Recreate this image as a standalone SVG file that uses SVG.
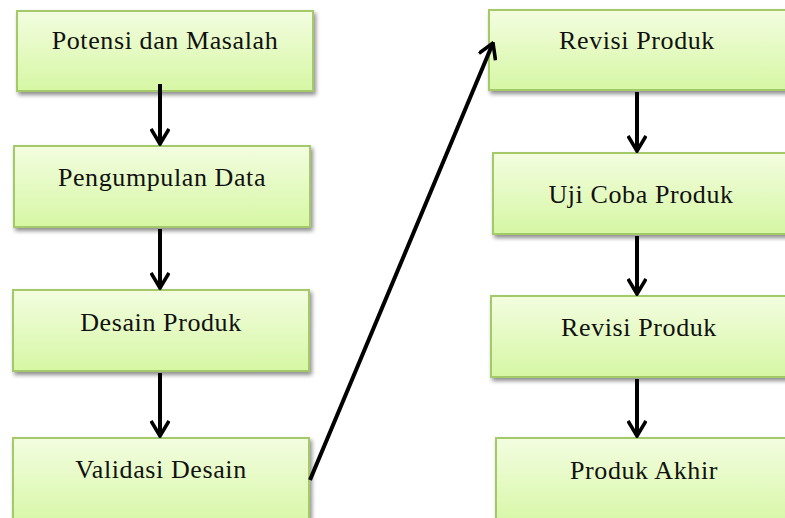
<svg xmlns="http://www.w3.org/2000/svg" width="785" height="518" viewBox="0 0 785 518">
<defs>
<linearGradient id="g" x1="0" y1="0" x2="0" y2="1">
<stop offset="0" stop-color="#f3fde0"/>
<stop offset="1" stop-color="#d6f7a4"/>
</linearGradient>
<filter id="sh" x="-10%" y="-10%" width="120%" height="130%">
<feGaussianBlur in="SourceAlpha" stdDeviation="2"/>
<feOffset dx="2" dy="3" result="b"/>
<feComponentTransfer><feFuncA type="linear" slope="0.45"/></feComponentTransfer>
<feMerge><feMergeNode/><feMergeNode in="SourceGraphic"/></feMerge>
</filter>
<marker id="ah" viewBox="0 0 18 20" refX="16.5" refY="10" markerWidth="18" markerHeight="20" markerUnits="userSpaceOnUse" orient="auto">
<path d="M1.5,1 L16.5,10 L1.5,19" fill="none" stroke="#000" stroke-width="3.6"/>
</marker>
</defs>
<style>
.box{fill:url(#g);stroke:#a3c968;stroke-width:2;filter:url(#sh)}
.t{font-family:"Liberation Serif","Times New Roman",serif;font-size:26px;letter-spacing:0.6px;fill:#111;text-anchor:middle}
.c{stroke:#000;stroke-width:4;fill:none;marker-end:url(#ah)}
</style>
<rect width="785" height="518" fill="#fff"/>
<g id="n1"><rect class="box" x="17" y="11" width="296" height="80"/><text class="t" x="165" y="49">Potensi dan Masalah</text></g>
<g id="n2"><rect class="box" x="14" y="146" width="296" height="81"/><text class="t" x="162" y="186">Pengumpulan Data</text></g>
<g id="n3"><rect class="box" x="13" y="290" width="296" height="81"/><text class="t" x="161" y="331">Desain Produk</text></g>
<g id="n4"><rect class="box" x="13" y="438" width="296" height="90"/><text class="t" x="161" y="478">Validasi Desain</text></g>
<g id="n5"><rect class="box" x="489" y="10" width="310" height="80"/><text class="t" x="637" y="49">Revisi Produk</text></g>
<g id="n6"><rect class="box" x="493" y="153" width="306" height="81"/><text class="t" x="641" y="203">Uji Coba Produk</text></g>
<g id="n7"><rect class="box" x="491" y="296" width="308" height="81"/><text class="t" x="639" y="336">Revisi Produk</text></g>
<g id="n8"><rect class="box" x="496" y="438" width="303" height="90"/><text class="t" x="644" y="479">Produk Akhir</text></g>
<g id="connectors">
<line class="c" x1="160" y1="84" x2="160" y2="144"/>
<line class="c" x1="160" y1="229" x2="160" y2="288"/>
<line class="c" x1="160" y1="373" x2="160" y2="436"/>
<line class="c" x1="310" y1="480" x2="493" y2="43"/>
<line class="c" x1="637" y1="92" x2="637" y2="151"/>
<line class="c" x1="637" y1="236" x2="637" y2="294"/>
<line class="c" x1="637" y1="379" x2="637" y2="436"/>
</g>
</svg>
